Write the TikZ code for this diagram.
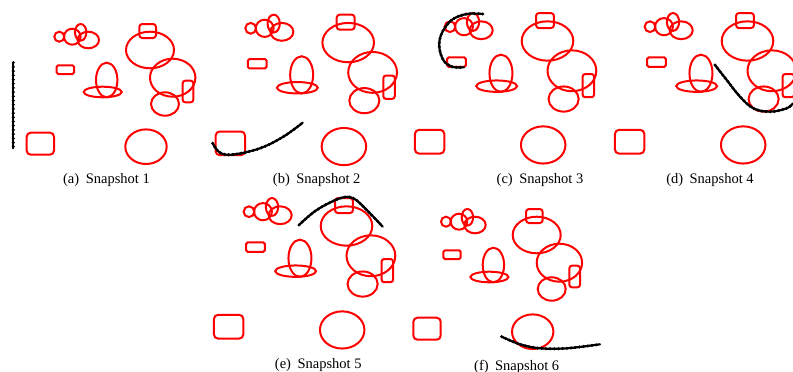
\documentclass[tikz,border=0pt]{standalone}
\usepackage{fontspec}
\setmainfont{Liberation Serif}
\tikzset{
  obst/.style={draw=red, line width=2pt},
  chainline/.style={draw=black, line width=2.2pt, line cap=round, line join=round},
  chainbeads/.style={draw=black, line width=3.4pt, line cap=round, dash pattern=on 0pt off 4.2pt},
  captext/.style={font=\fontsize{14.5}{16}\selectfont, inner sep=0pt}
}
\newcommand\drawobstacles{%
  \draw[obst] (0,0) circle [x radius=5, y radius=5];
  \draw[obst] (13,0) circle [x radius=8.3, y radius=8];
  \draw[obst] (21.4,-4.4) circle [x radius=5.7, y radius=8.3];
  \draw[obst] (29,3.3) circle [x radius=10.7, y radius=8.3];
  \draw[obst, rounded corners=1.5pt] (-2.6,28.6) rectangle (14.7,37.3);
  \draw[obst] (47.4,43.3) circle [x radius=10.7, y radius=17.3];
  \draw[obst] (43.4,55.3) circle [x radius=19, y radius=5.3];
  \draw[obst, rounded corners=3pt] (80,-12.7) rectangle (96.7,1.3);
  \draw[obst] (90.7,13.3) circle [x radius=24, y radius=18.3];
  \draw[obst] (113.4,41) circle [x radius=22.7, y radius=19];
  \draw[obst, rounded corners=2.5pt] (123.4,44) rectangle (134,65.6);
  \draw[obst] (105.7,67.3) circle [x radius=14, y radius=11.7];
  \draw[obst, rounded corners=4pt] (-32.6,96) rectangle (-5.3,118);
  \draw[obst] (86.7,110) circle [x radius=20.7, y radius=17.3];
}
\newcommand\chainpath[1]{%
  \draw[chainline] plot[smooth, tension=0.6] coordinates {#1};
  \draw[chainbeads] plot[smooth, tension=0.6] coordinates {#1};
}
\begin{document}
\begin{tikzpicture}[x=1pt, y=-1pt]
\useasboundingbox (0,0) rectangle (793,372);
% panels
\begin{scope}[shift={(59.3,36.7)}] \drawobstacles \end{scope}
\begin{scope}[shift={(250.7,28.3)}, scale=1.075] \drawobstacles \end{scope}
\begin{scope}[shift={(450,26.7)}, scale=1.075] \drawobstacles \end{scope}
\begin{scope}[shift={(650,26.7)}, scale=1.075] \drawobstacles \end{scope}
\begin{scope}[shift={(249,211.7)}, scale=1.075] \drawobstacles \end{scope}
\begin{scope}[shift={(446,221.7)}] \drawobstacles \end{scope}
% chains
\chainpath{(13.3,62.7) (13.3,148.3)}
\chainpath{(212.7,143.3) (220,152.7) (233.3,154.5) (260,148.3) (283.3,136.7) (302.7,122.7)}
\chainpath{(482.7,14) (466.7,14) (451.7,20) (441.7,33.3) (439.3,46.7) (443.3,60) (451.7,66.7) (464,67.3)}
\chainpath{(715,65) (726.7,80) (740,96.7) (753.3,108.3) (770,111.7) (786.7,108.3) (793,103.3)}
\chainpath{(299,225) (316.7,210) (340,198.3) (353.3,198.3) (366.7,210) (382.7,226.7)}
\chainpath{(501.7,336.7) (520,344.3) (540,348.3) (566.7,348.3) (600,344.3)}
% captions
\node[captext] (capa) at (106.5,180.5) {(a)\hspace{0.45em}Snapshot 1};
\node[captext] (capb) at (316.7,180.5) {(b)\hspace{0.45em}Snapshot 2};
\node[captext] (capc) at (540,180.5) {(c)\hspace{0.45em}Snapshot 3};
\node[captext] (capd) at (710,180.5) {(d)\hspace{0.45em}Snapshot 4};
\node[captext] (cape) at (318.3,365) {(e)\hspace{0.45em}Snapshot 5};
\node[captext] (capf) at (516.7,366.5) {(f)\hspace{0.45em}Snapshot 6};
\end{tikzpicture}
\end{document}
